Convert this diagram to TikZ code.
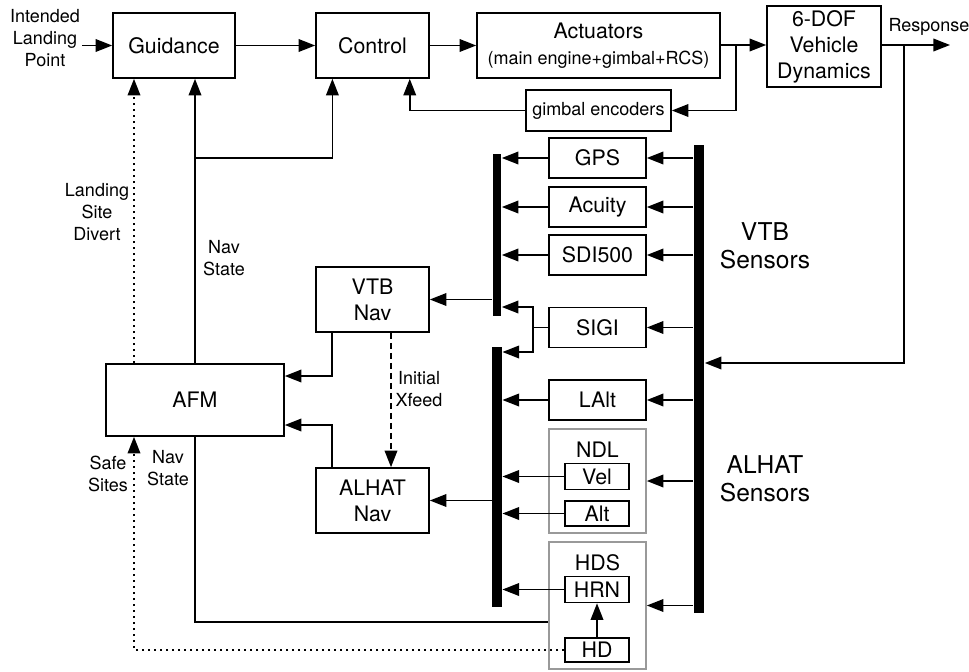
\documentclass[tikz,border=0pt]{standalone}
\usepackage{fontspec}
\setmainfont{TeX Gyre Heros}
\usetikzlibrary{calc,positioning,arrows.meta}

\begin{document}
\begin{tikzpicture}[x=0.75pt,y=-0.75pt,line width=1.2pt,>={Triangle[length=12.5pt,width=9.5pt]}]
\tikzstyle{blk}=[draw,line width=1.2pt,align=center,inner sep=0pt,font=\fontsize{16pt}{19.5pt}\selectfont]
\tikzstyle{sens}=[blk,minimum width=72.75pt,minimum height=30pt]
\tikzstyle{sub}=[blk,minimum width=48pt,minimum height=19.5pt]
\tikzstyle{grp}=[draw=black!40,line width=1.2pt,minimum width=72.75pt]
\tikzstyle{bus}=[fill=black,inner sep=0pt]
\tikzstyle{lbl}=[align=center,inner sep=1pt,font=\fontsize{13.5pt}{16.5pt}\selectfont]
\tikzstyle{big}=[align=center,inner sep=1pt,font=\fontsize{18.4pt}{21pt}\selectfont]
\useasboundingbox (0,0) rectangle (969,671);

% top row
\node[lbl] (inlp) at (45,38) {Intended\\Landing\\Point};
\node[blk,minimum width=91.5pt,minimum height=48.75pt] (guid) at (174,45.5) {Guidance};
\node[blk,minimum width=84.75pt,minimum height=48.75pt] (ctrl) at (372.5,45.5) {Control};
\node[blk,minimum width=182.25pt,minimum height=48.75pt] (act) at (598.5,45.5) {Actuators\\{\fontsize{13.5pt}{16pt}\selectfont (main engine+gimbal+RCS)}};
\node[blk,minimum width=85.5pt,minimum height=60.75pt] (dof) at (824,46.5) {6-DOF\\Vehicle\\Dynamics};
\node[lbl] (resptxt) at (929,27) {Response};
\node[blk,minimum width=108.75pt,minimum height=30.75pt,font=\fontsize{13.5pt}{16pt}\selectfont] (gimb) at (598.5,110.5) {gimbal encoders};
\coordinate (respend) at (950,45);
\coordinate (rtap) at (904,45);
\coordinate (atap) at (736,45);

% sensors
\node[sens] (gps) at (597.5,158) {GPS};
\node[sens] (acu) at (597.5,207) {Acuity};
\node[sens] (sdi) at (597.5,255) {SDI500};
\node[sens] (sigi) at (597.5,327.5) {SIGI};
\node[sens] (lalt) at (597.5,400) {LAlt};
\node[grp,minimum height=78pt] (ndl) at (597.5,481) {};
\node[blk,draw=none] (ndltxt) at (597.5,450) {NDL};
\node[sub] (vel) at (597,476.5) {Vel};
\node[sub,minimum height=18.75pt] (alt) at (597,513.5) {Alt};
\node[grp,minimum height=95.25pt] (hds) at (597.5,605.5) {};
\node[blk,draw=none] (hdstxt) at (597.5,563) {HDS};
\node[sub] (hrn) at (597,589.5) {HRN};
\node[sub,minimum height=18pt] (hd) at (597,650) {HD};

% buses
\node[bus,minimum width=6pt,minimum height=121.5pt] (vbus) at (497,235) {};
\node[bus,minimum width=7pt,minimum height=195pt] (abus) at (497,477) {};
\node[bus,minimum width=7.5pt,minimum height=351pt] (rbus) at (699,379) {};
\node[big] (vtbtxt) at (765,246) {VTB\\Sensors};
\node[big] (alhattxt) at (765,479) {ALHAT\\Sensors};

% nav and afm
\node[blk,minimum width=84.75pt,minimum height=48.75pt] (vtbnav) at (372.5,299.5) {VTB\\Nav};
\node[blk,minimum width=84.75pt,minimum height=48.75pt] (alhatnav) at (372.5,500.5) {ALHAT\\Nav};
\node[blk,minimum width=133.5pt,minimum height=54pt] (afm) at (195,400) {AFM};
\node[lbl] (lsd) at (97,212) {Landing\\Site\\Divert};
\node[lbl] (ns1) at (224,258) {Nav\\State};
\node[lbl] (ns2) at (168,468) {Nav\\State};
\node[lbl] (safe) at (108,474) {Safe\\Sites};
\node[lbl] (xfeed) at (419,389) {Initial\\Xfeed};
\coordinate (divx) at (134,0);
\coordinate (nsj) at (195,158);
\coordinate (sj) at (533,327.5);

% forward path
\draw[->] (inlp.east |- guid.west) -- (guid.west);
\draw[->] (guid.east) -- (ctrl.west);
\draw[->] (ctrl.east) -- (act.west);
\draw[->] (act.east |- atap) -- (dof.west |- atap);
\draw[->] (dof.east |- rtap) -- (respend);
\draw[->] (atap) |- (gimb.east);
\draw[->] (gimb.west) -| ($(ctrl.south)!0.65!(ctrl.south east)$);
\draw[->] (rtap) |- (rbus.east |- 0,363);

% sensors to buses
\foreach \s in {gps,acu,sdi,sigi,lalt,ndl,hds}
  \draw[->] (rbus.west |- \s.east) -- (\s.east);
\foreach \s in {gps,acu,sdi}
  \draw[->] (\s.west) -- (vbus.east |- \s.west);
\foreach \s in {lalt,vel,alt}
  \draw[->] (\s.west) -- (abus.east |- \s.west);
\draw[->] (hrn.west) -- (abus.east |- hrn.west);
\draw[->] (hd.north) -- (hrn.south);
\draw (sigi.west) -- (sj);
\draw[->] (sj) |- (vbus.east |- 0,307);
\draw[->] (sj) |- (abus.east |- 0,352);

% navigation
\draw[->] (vbus.west |- vtbnav.east) -- (vtbnav.east);
\draw[->] (abus.west |- alhatnav.east) -- (alhatnav.east);
\draw[->] ($(vtbnav.south west)+(17,0)$) |- ($(afm.east)+(0,-24)$);
\draw[->] ($(alhatnav.north west)+(17,0)$) |- ($(afm.east)+(0,25)$);
\draw[->,dash pattern=on 5pt off 2.5pt] ($(vtbnav.south)+(18.5,0)$) -- ($(alhatnav.north)+(18.5,0)$);
\draw[->] (afm.north) -- (afm.north |- guid.south);
\draw[->] (nsj) -| ($(ctrl.south)!0.7!(ctrl.south west)$);
\draw (afm.south) |- (hds.west |- 0,622);
\draw[->,dash pattern=on 2pt off 2.5pt] (afm.north -| divx) -- (guid.south -| divx);
\draw[->,dash pattern=on 2pt off 2.5pt] (hd.west) -| (afm.south -| divx);
\end{tikzpicture}
\end{document}
